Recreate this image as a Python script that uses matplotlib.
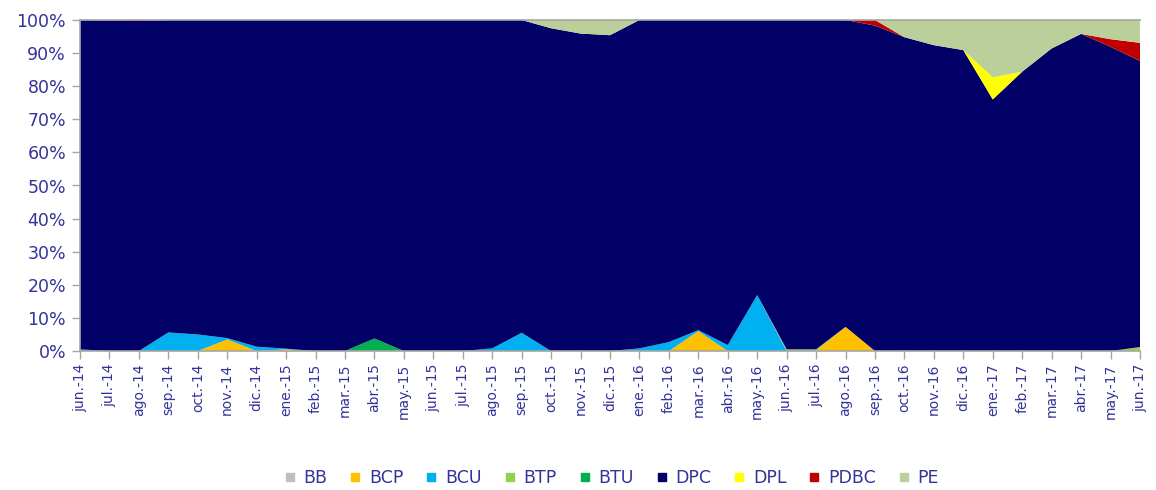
import matplotlib
matplotlib.use('Agg')
import matplotlib.pyplot as plt
from matplotlib.lines import Line2D
from matplotlib.ticker import PercentFormatter
import numpy as np

meses = ['jun.-14', 'jul.-14', 'ago.-14', 'sep.-14', 'oct.-14', 'nov.-14', 'dic.-14',
         'ene.-15', 'feb.-15', 'mar.-15', 'abr.-15', 'may.-15', 'jun.-15', 'jul.-15',
         'ago.-15', 'sep.-15', 'oct.-15', 'nov.-15', 'dic.-15', 'ene.-16', 'feb.-16',
         'mar.-16', 'abr.-16', 'may.-16', 'jun.-16', 'jul.-16', 'ago.-16', 'sep.-16',
         'oct.-16', 'nov.-16', 'dic.-16', 'ene.-17', 'feb.-17', 'mar.-17', 'abr.-17',
         'may.-17', 'jun.-17']

# Participacion (%) por tipo de instrumento
bb = [0] * 37
bcp = [0, 0, 0, 0, 0, 3.5, 0, 0.5, 0, 0, 0, 0, 0, 0, 0, 0, 0, 0, 0, 0, 0,
       6.0, 0, 0, 0, 0, 7.3, 0, 0, 0, 0, 0, 0, 0, 0, 0, 0]
bcu = [0.5, 0, 0, 5.6, 5.0, 0.4, 1.3, 0.2, 0, 0, 0, 0, 0, 0, 0.8, 5.5, 0, 0, 0, 0.8, 2.7,
       0.3, 1.8, 16.9, 0, 0, 0, 0, 0, 0, 0, 0, 0, 0, 0, 0, 0]
btp = [0, 0, 0, 0, 0, 0, 0, 0, 0, 0, 0, 0, 0, 0, 0, 0, 0, 0, 0, 0, 0,
       0, 0, 0, 0.5, 0.5, 0, 0, 0, 0, 0, 0, 0, 0, 0, 0, 1.2]
btu = [0, 0, 0, 0, 0, 0, 0, 0, 0, 0, 3.8, 0, 0, 0, 0, 0, 0, 0, 0, 0, 0,
       0, 0, 0, 0, 0, 0, 0, 0, 0, 0, 0, 0, 0, 0, 0, 0]
dpc = [99.5, 99.8, 99.7, 94.4, 95.0, 96.1, 98.7, 99.3, 100, 100, 96.2, 100, 100, 100,
       99.2, 94.5, 97.5, 95.9, 95.4, 99.2, 97.3, 93.7, 98.2, 83.1, 99.5, 99.5, 92.7,
       98.3, 94.8, 92.4, 90.9, 76.0, 84.4, 91.4, 95.8, 91.9, 86.4]
dpl = [0, 0, 0, 0, 0, 0, 0, 0, 0, 0, 0, 0, 0, 0, 0, 0, 0, 0, 0, 0, 0,
       0, 0, 0, 0, 0, 0, 0, 0, 0, 0, 6.7, 0, 0, 0, 0, 0]
pdbc = [0, 0.2, 0.3, 0, 0, 0, 0, 0, 0, 0, 0, 0, 0, 0, 0, 0, 0, 0, 0, 0, 0,
        0, 0, 0, 0, 0, 0, 1.7, 0, 0, 0, 0, 0, 0, 0, 2.3, 5.5]
pe = [0, 0, 0, 0, 0, 0, 0, 0, 0, 0, 0, 0, 0, 0, 0, 0, 2.5, 4.1, 4.6, 0, 0,
      0, 0, 0, 0, 0, 0, 0, 5.2, 7.6, 9.1, 17.3, 15.6, 8.6, 4.2, 5.8, 6.9]

nombres = ['BB', 'BCP', 'BCU', 'BTP', 'BTU', 'DPC', 'DPL', 'PDBC', 'PE']
colores = ['#BFBFBF', '#FFC000', '#00B0F0', '#92D050', '#00B050', '#000066',
           '#FFFF00', '#C00000', '#BACF9A']

series = np.array([bb, bcp, bcu, btp, btu, dpc, dpl, pdbc, pe], dtype=float)
# grafico 100% apilado
series = series / series.sum(axis=0) * 100

texto = '#333399'
gris = '#A6A6A6'

fig = plt.figure(figsize=(11.56, 4.9), dpi=100)
ax = fig.add_axes([80 / 1156, 1 - 351 / 490, 1060 / 1156, 331 / 490])

x = np.arange(len(meses))
ax.stackplot(x, series, colors=colores, linewidth=0, antialiased=True)

ax.set_xlim(0, len(meses) - 1)
ax.set_ylim(0, 100)
ax.set_yticks(np.arange(0, 101, 10))
ax.yaxis.set_major_formatter(PercentFormatter(decimals=0))
ax.set_xticks(x)
ax.set_xticklabels(meses, rotation=90)

ax.tick_params(axis='y', labelsize=12.5, labelcolor=texto, color=gris, length=6, width=1, pad=4)
ax.tick_params(axis='x', labelsize=10, labelcolor=texto, color=gris, length=6, width=1, pad=3)

for lado in ['left', 'bottom', 'top']:
    ax.spines[lado].set_color(gris)
    ax.spines[lado].set_linewidth(1.2)
ax.spines['right'].set_visible(False)

handles = [Line2D([], [], marker='s', linestyle='none', markersize=6,
                  markerfacecolor=c, markeredgecolor=c) for c in colores]
fig.legend(handles, nombres, loc='center', bbox_to_anchor=(611 / 1156, 1 - 478 / 490),
           ncol=9, frameon=False, fontsize=12.5, labelcolor=texto,
           handlelength=0.8, handletextpad=0.4, columnspacing=1.2)

fig.savefig('out.png', dpi=100)
